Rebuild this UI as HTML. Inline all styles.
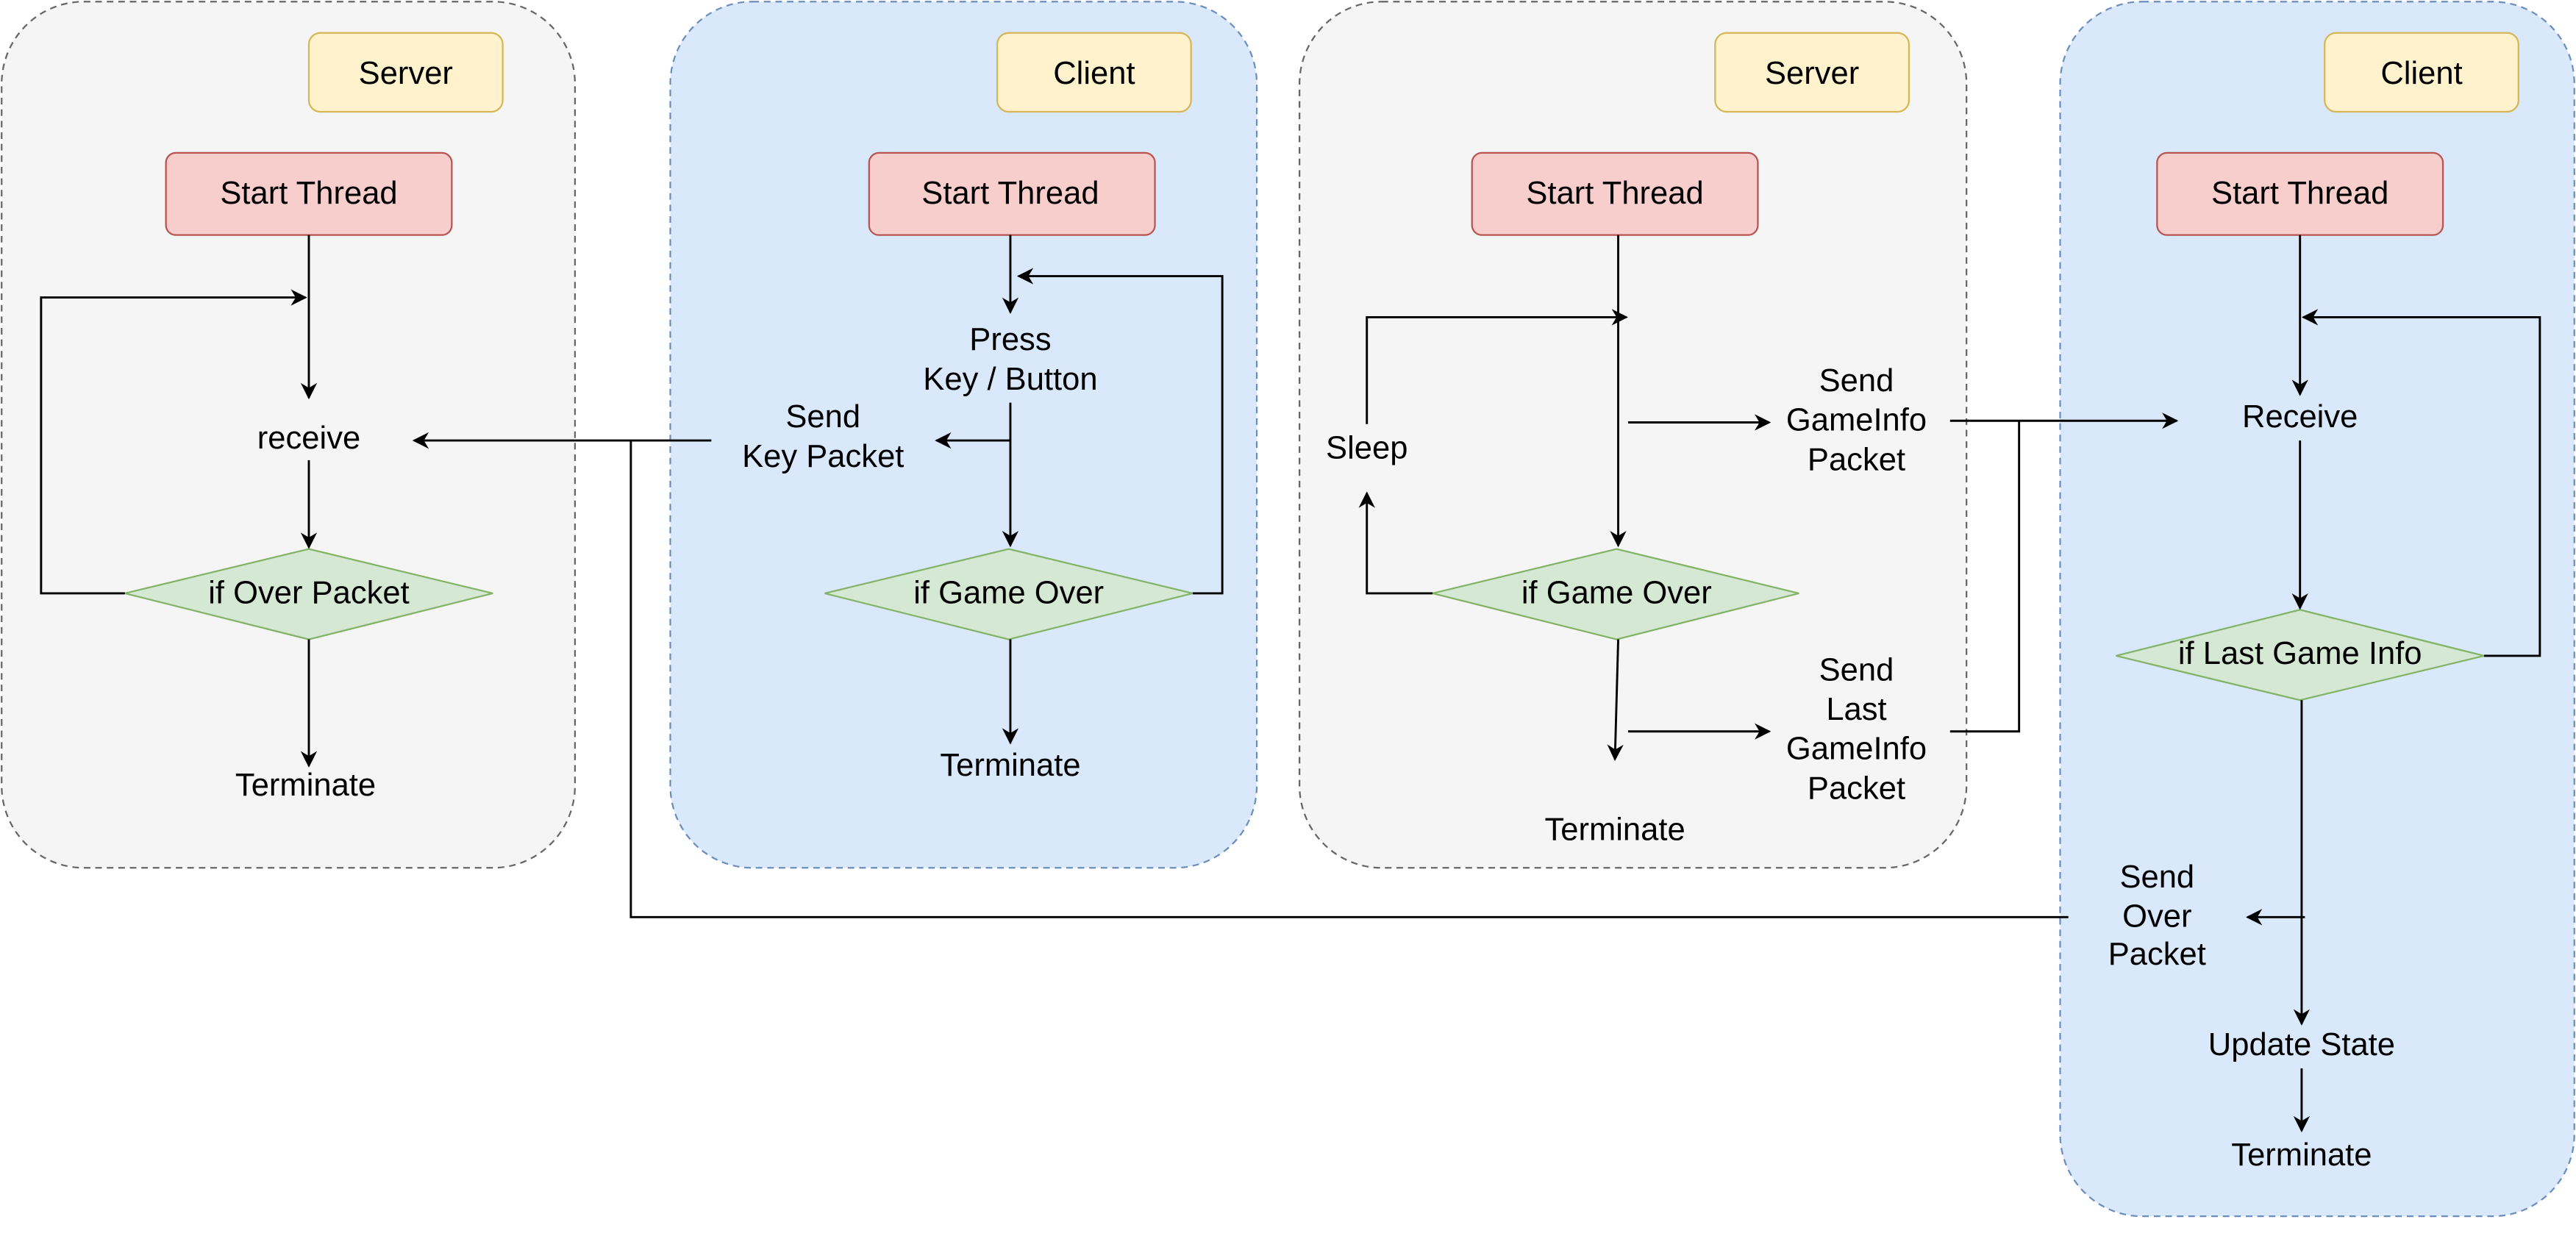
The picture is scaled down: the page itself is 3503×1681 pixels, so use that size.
<!DOCTYPE html>
<html><head><meta charset="utf-8"><style>html,body{margin:0;padding:0;background:#fff}svg{display:block}</style></head>
<body>
<svg width="3503" height="1681" viewBox="0 0 1568 752" preserveAspectRatio="none" xmlns="http://www.w3.org/2000/svg" font-family="Liberation Sans, sans-serif" font-size="19.5" text-anchor="middle">
<defs><marker id="a" markerWidth="10" markerHeight="10" refX="9" refY="5" orient="auto" markerUnits="userSpaceOnUse"><path d="M0,0 L10,5 L0,10 L3,5 z" fill="#000"/></marker></defs>
<g stroke-dasharray="4,3" stroke-width="1">
<rect x="1" y="1" width="349" height="527" rx="50" fill="#f5f5f5" stroke="#666"/>
<rect x="408" y="1" width="357" height="527" rx="50" fill="#dae8fc" stroke="#6c8ebf"/>
<rect x="791" y="1" width="406" height="527" rx="50" fill="#f5f5f5" stroke="#666"/>
<rect x="1254" y="1" width="313" height="739" rx="50" fill="#dae8fc" stroke="#6c8ebf"/>
</g>
<g fill="#fff2cc" stroke="#d6b656">
<rect x="188" y="20" width="118" height="48" rx="7"/><rect x="607" y="20" width="118" height="48" rx="7"/>
<rect x="1044" y="20" width="118" height="48" rx="7"/><rect x="1415" y="20" width="118" height="48" rx="7"/>
</g>
<g>
<text x="247" y="51">Server</text><text x="666" y="51">Client</text><text x="1103" y="51">Server</text><text x="1474" y="51">Client</text>
</g>
<g fill="#f8cecc" stroke="#b85450">
<rect x="101" y="93" width="174" height="50" rx="6"/><rect x="529" y="93" width="174" height="50" rx="6"/>
<rect x="896" y="93" width="174" height="50" rx="6"/><rect x="1313" y="93" width="174" height="50" rx="6"/>
</g>
<g fill="#d5e8d4" stroke="#82b366">
<polygon points="76,361 188,334 300,361 188,389"/>
<polygon points="502,361 614,334 726,361 614,389"/>
<polygon points="872,361 984,334 1095,361 984,389"/>
<polygon points="1288,399 1400,371 1512,399 1400,426"/>
</g>
<g fill="none" stroke="#000" stroke-width="1.3" marker-end="url(#a)">
<path d="M188,143 V242"/><path d="M76,361 H25 V181 H186"/><path d="M188,280 V333"/><path d="M188,389 V466"/>
<path d="M615,143 V190"/><path d="M726,361 H744 V168 H620"/><path d="M615,245 V332"/><path d="M615,268 H570"/>
<path d="M433,268 H252"/><path d="M615,389 V452"/>
<path d="M985,143 V332"/><path d="M872,361 H832 V300"/><path d="M832,258 V193 H990"/><path d="M991,257 H1077"/>
<path d="M1187,256 H1325"/><path d="M985,389 L983,462"/><path d="M991,445 H1077"/>
<path d="M1400,143 V240"/><path d="M1400,268 V370"/><path d="M1512,399 H1546 V193 H1402"/>
<path d="M1401,426 V623"/><path d="M1403,558 H1368"/><path d="M1401,650 V688"/>
</g>
<g fill="none" stroke="#000" stroke-width="1.3">
<path d="M384,268 V558 H1259"/><path d="M1187,445 H1229 V256"/>
</g>
<g fill="#000">
<text x="188" y="124">Start Thread</text><text x="615" y="124">Start Thread</text><text x="983" y="124">Start Thread</text><text x="1400" y="124">Start Thread</text>
<text x="188" y="273">receive</text><text x="188" y="367">if Over Packet</text><text x="186" y="484">Terminate</text>
<text x="615" y="213">Press</text><text x="615" y="237">Key / Button</text>
<text x="501" y="260">Send</text><text x="501" y="284">Key Packet</text>
<text x="614" y="367">if Game Over</text><text x="615" y="472">Terminate</text>
<text x="832" y="279">Sleep</text>
<text x="1130" y="238">Send</text><text x="1130" y="262">GameInfo</text><text x="1130" y="286">Packet</text>
<text x="984" y="367">if Game Over</text><text x="983" y="511">Terminate</text>
<text x="1130" y="414">Send</text><text x="1130" y="438">Last</text><text x="1130" y="462">GameInfo</text><text x="1130" y="486">Packet</text>
<text x="1400" y="260">Receive</text><text x="1400" y="404">if Last Game Info</text>
<text x="1313" y="540">Send</text><text x="1313" y="564">Over</text><text x="1313" y="587">Packet</text>
<text x="1401" y="642">Update State</text><text x="1401" y="709">Terminate</text>
</g>
</svg>
</body></html>
